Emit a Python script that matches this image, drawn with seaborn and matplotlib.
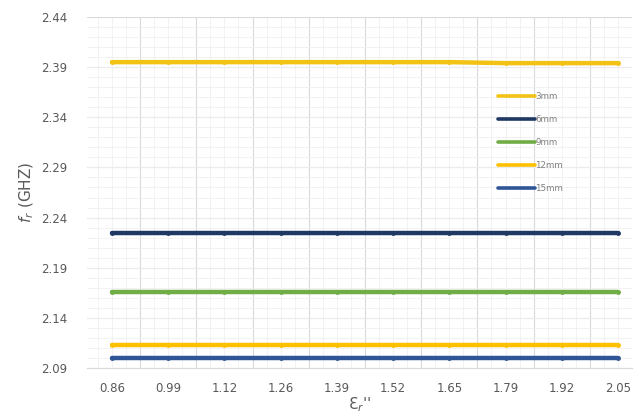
import matplotlib
matplotlib.use("Agg")
import matplotlib.pyplot as plt
import seaborn as sns
import pandas as pd
from matplotlib.ticker import MultipleLocator

x_labels = ["0.86", "0.99", "1.12", "1.26", "1.39", "1.52", "1.65", "1.79", "1.92", "2.05"]
series_names = ["3mm", "6mm", "9mm", "12mm", "15mm"]
v_3mm = [2.395, 2.395, 2.395, 2.395, 2.395, 2.395, 2.395, 2.394, 2.394, 2.394]
v_6mm = [2.225, 2.225, 2.225, 2.225, 2.225, 2.225, 2.225, 2.225, 2.225, 2.225]
v_9mm = [2.166, 2.166, 2.166, 2.166, 2.166, 2.166, 2.166, 2.166, 2.166, 2.166]
v_12mm = [2.113, 2.113, 2.113, 2.113, 2.113, 2.113, 2.113, 2.113, 2.113, 2.113]
v_15mm = [2.100, 2.100, 2.100, 2.100, 2.100, 2.100, 2.100, 2.100, 2.100, 2.100]
colors = ["#F2C314", "#1F3864", "#70AD47", "#FFC000", "#2F5597"]
y_ticks = [2.09, 2.14, 2.19, 2.24, 2.29, 2.34, 2.39, 2.44]

rows = []
for name, vals in zip(series_names, [v_3mm, v_6mm, v_9mm, v_12mm, v_15mm]):
    for xl, v in zip(x_labels, vals):
        rows.append({"x": xl, "y": v, "series": name})
df = pd.DataFrame(rows)

sns.set_style("white")
fig = plt.figure(figsize=(6.34, 4.13), dpi=100)
ax = fig.add_axes([87/634, 1-368/413, (632-87)/634, (368-17)/413])

sns.lineplot(data=df, x="x", y="y", hue="series", hue_order=series_names,
             palette=colors, marker="o", markersize=3.5, markeredgewidth=0,
             linewidth=3.2, ax=ax, sort=False)

ax.set_yticks(y_ticks)
ax.set_yticklabels([f"{t:.2f}" for t in y_ticks])
ax.set_xticks(range(len(x_labels)))
ax.set_xticklabels(x_labels)

# gridlines between categories (Excel style) plus light minor grid
ax.yaxis.set_minor_locator(MultipleLocator(0.01))
ax.grid(False)
for i in range(-1, 10):
    ax.axvline(i + 0.5, color="#D9D9D9", lw=0.8, zorder=0)
    for k in (0.25, 0.5, 0.75):
        ax.axvline(i + 0.5 + k, color="#F0F0F0", lw=0.6, zorder=0)
for t in y_ticks:
    ax.axhline(t, color="#D9D9D9", lw=0.8, zorder=0)
for j in range(35):
    yy = 2.09 + j * 0.01
    ax.axhline(yy, color="#F0F0F0", lw=0.6, zorder=0)

for s in ["top", "right", "left"]:
    ax.spines[s].set_visible(False)
ax.spines["bottom"].set_color("#D9D9D9")
ax.tick_params(axis="both", which="both", length=0, labelsize=8.5, labelcolor="#595959")
ax.tick_params(axis="x", pad=10)
ax.tick_params(axis="y", pad=14)

ax.set_ylabel(r"$f_r$ (GHZ)", fontsize=11, color="#595959", labelpad=4)
ax.set_xlabel("Ɛ$_r$''", fontsize=11, color="#595959", labelpad=0)

leg = ax.legend(loc="upper left", bbox_to_anchor=(0.74, 0.81), frameon=False,
                fontsize=6.3, handlelength=4.2, handletextpad=0.05,
                labelspacing=1.6, markerscale=0)
for t in leg.get_texts():
    t.set_color("#808080")
for ln in leg.get_lines():
    ln.set_linewidth(2.6)

ax.set_autoscalex_on(False)
ax.set_xlim(-0.445, 9.25)
ax.set_ylim(2.09, 2.44)

fig.savefig("out.png", dpi=100)
